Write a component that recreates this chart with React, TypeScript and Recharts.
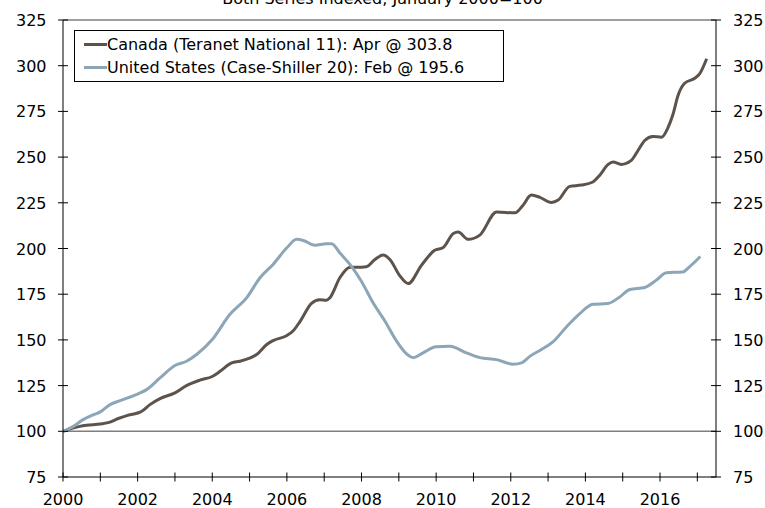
import React from "react";
import {
  Legend,
  Line,
  LineChart,
  ReferenceLine,
  XAxis,
  YAxis,
} from "recharts";

const FONT = '"DejaVu Sans", Verdana, sans-serif';
const CANADA_COLOR = "#5e534a";
const US_COLOR = "#8ca6b7";

const TITLE = "Both Series Indexed, January 2000=100";
const CANADA_NAME = "Canada (Teranet National 11): Apr @ 303.8";
const US_NAME = "United States (Case-Shiller 20): Feb @ 195.6";

const YEAR_TICKS = [
  2000, 2001, 2002, 2003, 2004, 2005, 2006, 2007, 2008, 2009, 2010, 2011, 2012,
  2013, 2014, 2015, 2016, 2017,
];
const Y_TICKS = [75, 100, 125, 150, 175, 200, 225, 250, 275, 300, 325];

// decimal year -> index level
const canadaT = [
  2000.0, 2000.45, 2000.63, 2001.0, 2001.26, 2001.48, 2001.71, 2002.0, 2002.11,
  2002.33, 2002.6, 2003.0, 2003.31, 2003.67, 2004.0, 2004.21, 2004.52, 2004.74,
  2005.0, 2005.19, 2005.46, 2005.63, 2006.0, 2006.17, 2006.35, 2006.66, 2006.88,
  2007.06, 2007.15, 2007.42, 2007.69, 2008.0, 2008.13, 2008.36, 2008.58, 2008.76,
  2009.03, 2009.25, 2009.61, 2009.96, 2010.19, 2010.46, 2010.59, 2010.86, 2011.17,
  2011.62, 2012.11, 2012.33, 2012.55, 2012.78, 2013.09, 2013.27, 2013.58, 2013.89,
  2014.2, 2014.38, 2014.61, 2014.74, 2014.96, 2015.23, 2015.41, 2015.59, 2015.81,
  2016.04, 2016.21, 2016.35, 2016.48, 2016.66, 2016.93, 2017.06, 2017.25,
];
const canadaV = [
  100, 102.7, 103.3, 104, 105, 107, 108.6, 110, 111, 114.6, 117.9, 121, 125, 128,
  130, 132.8, 137.4, 138.3, 140, 142, 147.5, 149.6, 152.4, 155, 160, 170, 172,
  171.7, 173, 184, 189.8, 189.8, 190, 194, 196.4, 194, 185, 180.8, 190.9, 199,
  200.5, 208.2, 209, 205, 207.3, 220, 219.5, 223.7, 229.2, 228, 225.2, 226.5, 234,
  234.7, 236.4, 240, 246, 247.3, 246, 248.2, 253.6, 259.1, 261.3, 260.9, 266,
  273.6, 283.6, 290.4, 293.1, 295.5, 303.8,
];

const usT = [
  2000.0, 2000.28, 2000.54, 2000.81, 2001.0, 2001.26, 2001.53, 2002.0, 2002.24,
  2002.6, 2003.0, 2003.31, 2003.58, 2004.0, 2004.47, 2004.92, 2005.28, 2005.63,
  2006.0, 2006.26, 2006.44, 2006.75, 2007.06, 2007.2, 2007.42, 2007.69, 2008.0,
  2008.31, 2008.63, 2008.94, 2009.2, 2009.39, 2009.65, 2010.0, 2010.37, 2010.81,
  2011.17, 2011.62, 2012.06, 2012.29, 2012.51, 2012.82, 2013.13, 2013.49, 2013.85,
  2014.2, 2014.6, 2014.92, 2015.19, 2015.59, 2015.9, 2016.17, 2016.61, 2016.79,
  2017.08,
];
const usV = [
  100, 102.7, 106.4, 109, 110.6, 114.6, 116.8, 120.4, 122.8, 129.2, 136, 138.3,
  142, 150.2, 163.9, 173, 184, 191.3, 200.4, 205, 204.4, 201.8, 202.6, 202.6,
  197.6, 191.3, 182, 170.3, 160.2, 149.3, 142.5, 140.3, 142.9, 146.2, 146.5,
  142.9, 140.3, 139.2, 136.7, 137.4, 141, 144.7, 148.9, 157.1, 164.4, 169.5,
  169.9, 173.5, 177.6, 178.7, 182.7, 186.7, 187.2, 190, 195.6,
];

const canadaData = canadaT.map((t, i) => ({ t, v: canadaV[i] }));
const usData = usT.map((t, i) => ({ t, v: usV[i] }));

const M = 10;

function LeftTick({ x, y, payload }: any) {
  const ax = x + M;
  return (
    <g>
      <line x1={ax - 5} x2={ax + 5} y1={y} y2={y} stroke="#000" />
      <text x={ax - 16.5} y={y + 6} textAnchor="end" fontSize={16} fontFamily={FONT} fill="#000">
        {payload.value}
      </text>
    </g>
  );
}

function RightTick({ x, y, payload }: any) {
  const ax = x - M;
  return (
    <g>
      <line x1={ax - 5} x2={ax + 5} y1={y} y2={y} stroke="#000" />
      <text x={ax + 17} y={y + 6} textAnchor="start" fontSize={16} fontFamily={FONT} fill="#000">
        {payload.value}
      </text>
    </g>
  );
}

function BottomTick({ x, y, payload }: any) {
  const ay = y - M;
  const label = payload.value % 2 === 0 ? String(payload.value) : "";
  return (
    <g>
      <line x1={x} x2={x} y1={ay - 4.5} y2={ay + 4.5} stroke="#000" />
      <text x={x} y={ay + 28} textAnchor="middle" fontSize={16} fontFamily={FONT} fill="#000">
        {label}
      </text>
    </g>
  );
}

function LegendBox({ payload }: any) {
  return (
    <div
      style={{
        boxSizing: "border-box",
        width: 430,
        border: "1px solid #000",
        background: "#fff",
        padding: "2px 0 2px 9px",
        fontFamily: FONT,
        fontSize: 16,
        lineHeight: "23px",
        color: "#000",
      }}
    >
      {(payload || []).map((p: any) => (
        <div key={p.value} style={{ display: "flex", alignItems: "center", whiteSpace: "nowrap" }}>
          <span style={{ display: "inline-block", width: 23, height: 3, background: p.color }} />
          <span>{p.value}</span>
        </div>
      ))}
    </div>
  );
}

export default function App() {
  return (
    <div style={{ position: "absolute", left: 0, top: 0, width: 765, height: 508, background: "#fff" }}>
      <div
        style={{
          position: "absolute",
          left: 0,
          top: -9.5,
          width: 765,
          textAlign: "center",
          fontFamily: FONT,
          fontSize: 16,
          lineHeight: "16px",
          color: "#000",
          zIndex: 2,
        }}
      >
        {TITLE}
      </div>
      <LineChart width={765} height={508} margin={{ top: 20, right: 0, bottom: 0, left: 0 }}>
        <XAxis
          type="number"
          dataKey="t"
          domain={[2000, 2017.5]}
          ticks={YEAR_TICKS}
          interval={0}
          height={31}
          tickSize={0}
          tickMargin={M}
          tick={<BottomTick />}
          axisLine={{ stroke: "#000" }}
          allowDataOverflow
        />
        <YAxis
          yAxisId="left"
          type="number"
          domain={[75, 325]}
          ticks={Y_TICKS}
          interval={0}
          width={63}
          tickSize={0}
          tickMargin={M}
          tick={<LeftTick />}
          axisLine={{ stroke: "#000" }}
          allowDataOverflow
        />
        <YAxis
          yAxisId="right"
          orientation="right"
          type="number"
          domain={[75, 325]}
          ticks={Y_TICKS}
          interval={0}
          width={49}
          tickSize={0}
          tickMargin={M}
          tick={<RightTick />}
          axisLine={{ stroke: "#000" }}
          allowDataOverflow
        />
        <ReferenceLine yAxisId="left" y={100} stroke="#7f7f7f" strokeWidth={1.5} />
        <ReferenceLine yAxisId="left" y={325} stroke="#7f7f7f" strokeWidth={1.5} />
        <Line
          yAxisId="left"
          data={canadaData}
          dataKey="v"
          name={CANADA_NAME}
          type="monotone"
          stroke={CANADA_COLOR}
          strokeWidth={3}
          dot={false}
          isAnimationActive={false}
        />
        <Line
          yAxisId="left"
          data={usData}
          dataKey="v"
          name={US_NAME}
          type="monotone"
          stroke={US_COLOR}
          strokeWidth={3}
          dot={false}
          isAnimationActive={false}
        />
        <Legend
          layout="horizontal"
          verticalAlign="middle"
          align="center"
          content={<LegendBox />}
          wrapperStyle={{ left: 74, top: 30, width: "auto" }}
        />
      </LineChart>
    </div>
  );
}
